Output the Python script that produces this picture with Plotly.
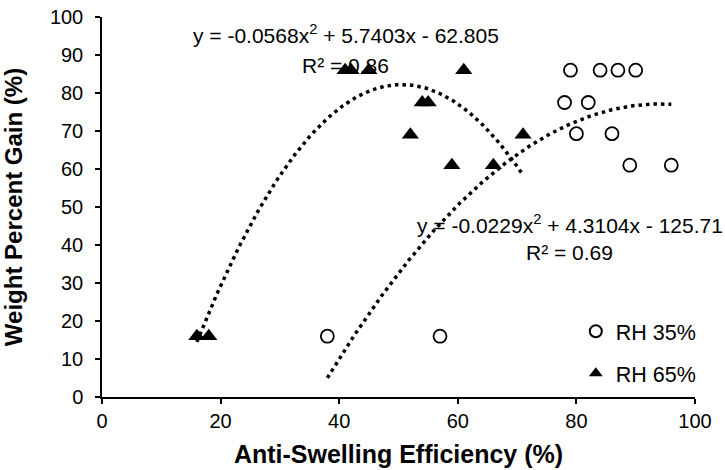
import numpy as np
import plotly.graph_objects as go

# RH 35% (open circles)
rh35_x = [38, 57, 78, 79, 80, 82, 84, 86, 87, 89, 90, 96]
rh35_y = [16, 16, 77.5, 86, 69.3, 77.5, 86, 69.3, 86, 61, 86, 61]

# RH 65% (filled triangles)
rh65_x = [16, 18, 41, 42, 45, 52, 54, 55, 59, 61, 66, 71]
rh65_y = [16, 16, 86, 86, 86, 69, 77.5, 77.5, 61, 86, 61, 69]

# Polynomial trendline coefficients (as displayed on the chart)
fit65 = [-0.0568, 5.7403, -62.805]
fit35 = [-0.0229, 4.3104, -125.71]

x65 = np.linspace(min(rh65_x), max(rh65_x), 200)
x35 = np.linspace(min(rh35_x), max(rh35_x), 200)
y65 = np.polyval(fit65, x65)
y35 = np.polyval(fit35, x35)

FONT = "Liberation Sans, Arial, sans-serif"

fig = go.Figure()
fig.add_trace(go.Scatter(x=rh35_x, y=rh35_y, mode="markers", name="RH 35%",
                         legendgroup="a",
                         marker=dict(symbol="circle-open", size=13, color="black",
                                     line=dict(width=1.8, color="black"))))
fig.add_trace(go.Scatter(x=rh65_x, y=rh65_y, mode="markers", name="RH 65%",
                         legendgroup="b",
                         marker=dict(symbol="triangle-up", size=15, color="black")))
fig.add_trace(go.Scatter(x=x65, y=y65, mode="lines", showlegend=False,
                         line=dict(color="black", width=3.5, dash="3.5px,4px")))
fig.add_trace(go.Scatter(x=x35, y=y35, mode="lines", showlegend=False,
                         line=dict(color="black", width=3.5, dash="3.5px,4px")))

ann_font = dict(family=FONT, size=21, color="black")
fig.add_annotation(x=41.1, y=95.5, xref="x", yref="y", showarrow=False,
                   text="y = -0.0568x<sup>2</sup> + 5.7403x - 62.805", font=ann_font)
fig.add_annotation(x=41.1, y=87.2, xref="x", yref="y", showarrow=False,
                   text="R² = 0.86", font=ann_font)
fig.add_annotation(x=78.9, y=45.6, xref="x", yref="y", showarrow=False,
                   text="y = -0.0229x<sup>2</sup> + 4.3104x - 125.71", font=ann_font)
fig.add_annotation(x=78.9, y=37.9, xref="x", yref="y", showarrow=False,
                   text="R² = 0.69", font=ann_font)

axis_common = dict(showline=True, linecolor="black", linewidth=1.5,
                   ticks="outside", ticklen=5, tickwidth=1.5, tickcolor="black",
                   showgrid=False, zeroline=False, automargin=False,
                   tickfont=dict(family=FONT, size=20, color="black"))

fig.update_layout(
    width=725, height=470,
    margin=dict(l=102, r=30, t=17, b=73),
    paper_bgcolor="white", plot_bgcolor="white",
    font=dict(family=FONT, color="black"),
    xaxis=dict(range=[0, 100], dtick=20, tick0=0, ticklabelstandoff=0,
               title=dict(text="<b>Anti-Swelling Efficiency (%)</b>",
                          font=dict(family=FONT, size=25), standoff=15),
               **axis_common),
    yaxis=dict(range=[0, 100], dtick=10, tick0=0, ticklabelstandoff=8,
               title=dict(text="<b>Weight Percent Gain (%)</b>",
                          font=dict(family=FONT, size=24), standoff=29),
               **axis_common),
    legend=dict(x=0.799, y=0.227, xanchor="left", yanchor="top",
                font=dict(family=FONT, size=21.5), tracegroupgap=11,
                bgcolor="rgba(0,0,0,0)", itemsizing="constant"),
)

# remove the browser's default page margin so the figure sits at the window origin
fig.write_html("out.html", config={"displayModeBar": False},
               post_script="document.body.style.margin='0';")
